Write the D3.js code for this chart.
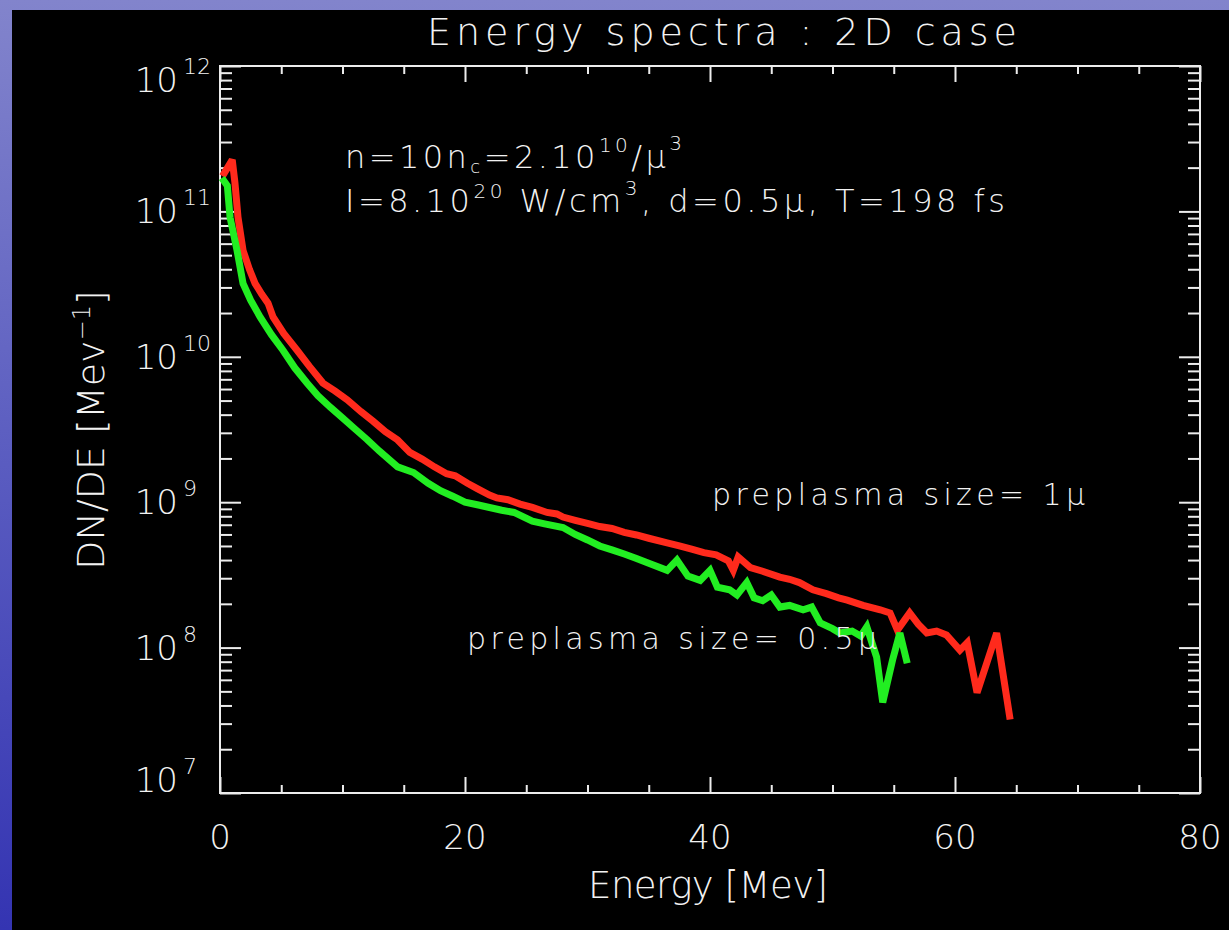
<!DOCTYPE html>
<html>
<head>
<meta charset="utf-8">
<script src="https://cdn.jsdelivr.net/npm/d3@7"></script>
<style>
  html, body { margin: 0; padding: 0; background: #000; }
  svg { display: block; }
  text { fill: #f2f2f2; font-family: "DejaVu Sans", "Liberation Sans", sans-serif; font-weight: 200; }
</style>
</head>
<body>
<svg id="chart" width="1229" height="930"></svg>
<script>
// Electron energy spectra, two preplasma sizes (2D run)
const redEnergy = [0.2, 1.0, 1.22, 1.47, 1.88, 2.4, 2.86, 3.4, 3.92, 4.33, 5.2, 6.29, 7.3, 8.4, 9.4,
  10.4, 11.5, 12.5, 13.5, 14.5, 15.5, 16.5, 17.5, 18.5, 19.2, 20.2, 21.0, 22.0, 22.6, 23.5, 24.5, 25.5,
  26.7, 27.5, 28.0, 29.0, 30.0, 31.0, 32.0, 33.0, 34.0, 35.0, 36.5, 37.5, 38.5, 39.5, 40.5, 41.5, 41.9,
  42.3, 43.3, 44.3, 45.7, 46.5, 47.3, 48.4, 49.5, 50.5, 51.2, 52.5, 53.9, 54.7, 55.3, 56.3, 57.0,
  57.7, 58.5, 59.3, 60.4, 61.0, 61.8, 63.4, 64.5];
const redCounts = [1.75e11, 2.26e11, 1.57e11, 9.1e10, 5.4e10, 4.0e10, 3.2e10, 2.7e10, 2.34e10, 1.88e10,
  1.45e10, 1.11e10, 8.6e9, 6.6e9, 5.8e9, 5.05e9, 4.2e9, 3.6e9, 3.05e9, 2.68e9, 2.2e9, 1.98e9,
  1.75e9, 1.57e9, 1.52e9, 1.35e9, 1.24e9, 1.12e9, 1.07e9, 1.04e9, 9.7e8, 9.2e8, 8.5e8, 8.3e8, 7.9e8,
  7.5e8, 7.15e8, 6.8e8, 6.6e8, 6.2e8, 5.95e8, 5.65e8, 5.25e8, 5.0e8, 4.75e8, 4.5e8, 4.35e8, 3.95e8,
  3.4e8, 4.2e8, 3.55e8, 3.35e8, 3.05e8, 2.95e8, 2.8e8, 2.5e8, 2.35e8, 2.2e8, 2.12e8, 1.95e8, 1.82e8,
  1.73e8, 1.32e8, 1.73e8, 1.45e8, 1.26e8, 1.3e8, 1.22e8, 9.6e7, 1.08e8, 4.9e7, 1.26e8, 3.2e7];

const greenEnergy = [0.15, 0.6, 0.82, 1.39, 1.88, 2.5, 3.27, 4.2, 5.14, 6.1, 7.1, 8.0, 9.0, 10.0, 11.0,
  12.0, 13.0, 14.5, 15.8, 17.0, 18.0, 19.0, 20.0, 21.0, 22.0, 23.0, 24.0, 25.5, 26.5, 28.0, 29.0,
  30.0, 31.0, 32.0, 33.0, 34.0, 35.0, 36.5, 37.3, 38.2, 39.2, 40.0, 40.6, 41.6, 42.2, 43.0, 43.6,
  44.3, 45.0, 45.7, 46.5, 47.6, 48.3, 49.0, 50.0, 50.6, 51.6, 52.3, 52.8, 53.6, 54.1, 54.9, 55.5, 56.1];
const greenCounts = [1.7e11, 1.5e11, 9.1e10, 5.4e10, 3.2e10, 2.45e10, 1.88e10, 1.42e10, 1.11e10, 8.4e9,
  6.6e9, 5.4e9, 4.5e9, 3.8e9, 3.2e9, 2.7e9, 2.25e9, 1.75e9, 1.6e9, 1.35e9, 1.2e9, 1.1e9, 1.0e9, 9.6e8,
  9.2e8, 8.8e8, 8.5e8, 7.4e8, 7.1e8, 6.7e8, 6.0e8, 5.5e8, 5.0e8, 4.7e8, 4.4e8, 4.1e8, 3.8e8, 3.4e8,
  4.0e8, 3.1e8, 2.9e8, 3.4e8, 2.6e8, 2.5e8, 2.3e8, 2.8e8, 2.2e8, 2.1e8, 2.3e8, 1.9e8, 1.95e8, 1.82e8,
  1.9e8, 1.48e8, 1.35e8, 1.26e8, 1.3e8, 1.2e8, 1.39e8, 8.6e7, 4.2e7, 8.2e7, 1.26e8, 7.8e7];

const xMajorTicks = [0, 20, 40, 60, 80];
const xTickLabels = ["0", "20", "40", "60", "80"];
const yMajorTicks = [1e7, 1e8, 1e9, 1e10, 1e11, 1e12];
const yTickExponents = ["7", "8", "9", "10", "11", "12"];

const W = 1229, H = 930;
const svg = d3.select("#chart");

// slide backdrop
const defs = svg.append("defs");
const grad = defs.append("linearGradient").attr("id", "slide").attr("x1", 0).attr("y1", 0).attr("x2", 0).attr("y2", 1);
grad.append("stop").attr("offset", "0%").attr("stop-color", "#8284cc");
grad.append("stop").attr("offset", "50%").attr("stop-color", "#5a5cc0");
grad.append("stop").attr("offset", "100%").attr("stop-color", "#3434b2");
svg.append("rect").attr("width", W).attr("height", H).attr("fill", "url(#slide)");
svg.append("rect").attr("x", 12).attr("y", 10).attr("width", W - 12).attr("height", H - 10).attr("fill", "#000");

const plot = { left: 220, right: 1200, top: 66, bottom: 793 };
const x = d3.scaleLinear().domain([0, 80]).range([plot.left, plot.right]);
const y = d3.scaleLog().domain([1e7, 1e12]).range([plot.bottom, plot.top]);

const axisColor = "#ececec";
const xMinor = d3.range(0, 81, 5).filter(v => v % 20 !== 0);
const yMinor = [];
for (let e = 7; e < 12; e++) for (let m = 2; m <= 9; m++) yMinor.push(m * Math.pow(10, e));

function styleAxis(g) {
  g.select(".domain").remove();
  g.selectAll("line").attr("stroke", axisColor).attr("stroke-width", 2);
  g.selectAll("text").remove();
}

// bottom / top axes, ticks point inward
svg.append("g").attr("transform", `translate(0,${plot.bottom})`)
  .call(d3.axisBottom(x).tickValues(xMajorTicks).tickSize(-16)).call(styleAxis);
svg.append("g").attr("transform", `translate(0,${plot.bottom})`)
  .call(d3.axisBottom(x).tickValues(xMinor).tickSize(-8)).call(styleAxis);
svg.append("g").attr("transform", `translate(0,${plot.top})`)
  .call(d3.axisTop(x).tickValues(xMajorTicks).tickSize(-16)).call(styleAxis);
svg.append("g").attr("transform", `translate(0,${plot.top})`)
  .call(d3.axisTop(x).tickValues(xMinor).tickSize(-8)).call(styleAxis);
// left / right axes
svg.append("g").attr("transform", `translate(${plot.left},0)`)
  .call(d3.axisLeft(y).tickValues(yMajorTicks).tickSize(-21)).call(styleAxis);
svg.append("g").attr("transform", `translate(${plot.left},0)`)
  .call(d3.axisLeft(y).tickValues(yMinor).tickSize(-12)).call(styleAxis);
svg.append("g").attr("transform", `translate(${plot.right},0)`)
  .call(d3.axisRight(y).tickValues(yMajorTicks).tickSize(-21)).call(styleAxis);
svg.append("g").attr("transform", `translate(${plot.right},0)`)
  .call(d3.axisRight(y).tickValues(yMinor).tickSize(-12)).call(styleAxis);

svg.append("rect")
  .attr("x", plot.left).attr("y", plot.top)
  .attr("width", plot.right - plot.left).attr("height", plot.bottom - plot.top)
  .attr("fill", "none").attr("stroke", axisColor).attr("stroke-width", 2);

// x tick labels
svg.append("g").selectAll("text").data(xMajorTicks).join("text")
  .attr("x", d => x(d)).attr("y", 849)
  .attr("text-anchor", "middle").attr("font-size", 34)
  .text((d, i) => xTickLabels[i]);

// y tick labels: 10^n, kept inside the frame's vertical extent
const yl = svg.append("g").selectAll("text").data(yMajorTicks).join("text")
  .attr("x", 178)
  .attr("y", d => Math.min(Math.max(y(d), plot.top + 14), plot.bottom - 13) + 12)
  .attr("text-anchor", "end").attr("font-size", 34);
yl.append("tspan").text("10");
yl.append("tspan").attr("x", 183).attr("dy", -18).attr("font-size", 22)
  .attr("text-anchor", "start").text((d, i) => yTickExponents[i]);

// curves
const line = d3.line().x(d => x(d[0])).y(d => y(d[1]));
const redPts = redEnergy.map((e, i) => [e, redCounts[i]]);
const greenPts = greenEnergy.map((e, i) => [e, greenCounts[i]]);
svg.append("path").datum(redPts).attr("d", line)
  .attr("fill", "none").attr("stroke", "#ff2a1c").attr("stroke-width", 7)
  .attr("stroke-linejoin", "miter").attr("stroke-miterlimit", 3);
svg.append("path").datum(greenPts).attr("d", line)
  .attr("fill", "none").attr("stroke", "#22ee22").attr("stroke-width", 7)
  .attr("stroke-linejoin", "miter").attr("stroke-miterlimit", 3);

// title and axis titles
svg.append("text").attr("x", 722).attr("y", 45).attr("text-anchor", "middle")
  .attr("font-size", 38).attr("textLength", 590).attr("lengthAdjust", "spacing")
  .text("Energy spectra : 2D case");
svg.append("text").attr("x", 708).attr("y", 898).attr("text-anchor", "middle")
  .attr("font-size", 37).attr("textLength", 240).attr("lengthAdjust", "spacing")
  .text("Energy [Mev]");
const yt = svg.append("text").attr("transform", "translate(104,430) rotate(-90)")
  .attr("text-anchor", "middle").attr("font-size", 38);
yt.append("tspan").text("DN/DE [Mev");
yt.append("tspan").attr("dy", -14).attr("font-size", 24).text("−1");
yt.append("tspan").attr("dy", 14).text("]");

// run parameters
const p1 = svg.append("text").attr("x", 345).attr("y", 168).attr("font-size", 32)
  .attr("textLength", 337).attr("lengthAdjust", "spacing");
p1.append("tspan").text("n=10n");
p1.append("tspan").attr("dy", 5).attr("font-size", 18).text("c");
p1.append("tspan").attr("dy", -5).text("=2.10");
p1.append("tspan").attr("dy", -16).attr("font-size", 20).text("10");
p1.append("tspan").attr("dy", 16).text("/μ");
p1.append("tspan").attr("dy", -18).attr("font-size", 20).text("3");

const p2 = svg.append("text").attr("x", 345).attr("y", 212).attr("font-size", 32)
  .attr("textLength", 660).attr("lengthAdjust", "spacing");
p2.append("tspan").text("I=8.10");
p2.append("tspan").attr("dy", -14).attr("font-size", 20).text("20");
p2.append("tspan").attr("dy", 14).text(" W/cm");
p2.append("tspan").attr("dy", -17).attr("font-size", 20).text("3");
p2.append("tspan").attr("dy", 17).text(", d=0.5μ, T=198 fs");

// series labels
svg.append("text").attr("x", 712).attr("y", 505).attr("font-size", 30)
  .attr("textLength", 373).attr("lengthAdjust", "spacing").text("preplasma size= 1μ");
svg.append("text").attr("x", 467).attr("y", 649).attr("font-size", 30)
  .attr("textLength", 410).attr("lengthAdjust", "spacing").text("preplasma size= 0.5μ");
</script>
</body>
</html>
